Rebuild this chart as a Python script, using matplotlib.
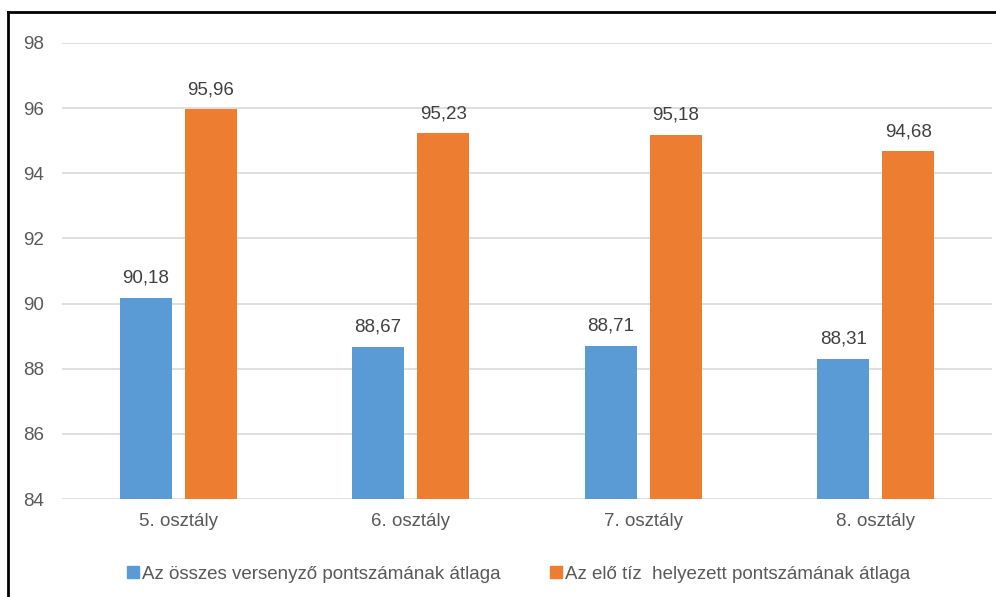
import matplotlib
matplotlib.use("Agg")
import matplotlib.pyplot as plt
import numpy as np
from matplotlib.lines import Line2D

plt.rcParams['font.family'] = ['Liberation Sans', 'DejaVu Sans']

categories = ["5. osztály", "6. osztály", "7. osztály", "8. osztály"]
series_names = ["Az összes versenyző pontszámának átlaga",
                "Az elő tíz  helyezett pontszámának átlaga"]
all_avg = [90.18, 88.67, 88.71, 88.31]
top10_avg = [95.96, 95.23, 95.18, 94.68]
yticks = [84, 86, 88, 90, 92, 94, 96, 98]

blue = "#5b9bd5"
orange = "#ed7d31"
fs = 13.5

fig = plt.figure(figsize=(9.96, 5.97), dpi=100)
ax = fig.add_axes([0.0622, 0.164, 0.9338, 0.764])

x = np.arange(len(categories))
w = 0.224
off = 0.14
ax.bar(x - off, [v - 84 for v in all_avg], w, bottom=84, color=blue, zorder=3)
ax.bar(x + off, [v - 84 for v in top10_avg], w, bottom=84, color=orange, zorder=3)

def fmt(v):
    return f"{v:.2f}".replace(".", ",")

for xi, v in zip(x - off, all_avg):
    ax.annotate(fmt(v), (xi, v), xytext=(0, 8), textcoords="offset points",
                ha="center", va="bottom", fontsize=fs, color="#404040")
for xi, v in zip(x + off, top10_avg):
    ax.annotate(fmt(v), (xi, v), xytext=(0, 8), textcoords="offset points",
                ha="center", va="bottom", fontsize=fs, color="#404040")

ax.set_xlim(-0.5, len(categories) - 0.5)
ax.set_ylim(84, 98)
ax.set_yticks(yticks)
ax.set_yticklabels([str(t) for t in yticks])
ax.set_xticks(x)
ax.set_xticklabels(categories)
ax.tick_params(axis="both", length=0, labelsize=fs, colors="#595959")
ax.tick_params(axis="y", pad=13)
ax.tick_params(axis="x", pad=10)
ax.yaxis.grid(True, color="#d9d9d9", linewidth=1.2, zorder=0)
for s in ax.spines.values():
    s.set_visible(False)

handles = [Line2D([], [], marker="s", linestyle="none", color=blue, markersize=8),
           Line2D([], [], marker="s", linestyle="none", color=orange, markersize=8)]
fig.legend(handles, series_names, loc="center", bbox_to_anchor=(0.52, 0.038),
           ncol=2, frameon=False, fontsize=fs, labelcolor="#595959",
           handletextpad=0.05, columnspacing=2.6, handlelength=0.8)

# outer frame (left and top edges)
fig.add_artist(Line2D([0.008, 0.008], [0, 0.98], transform=fig.transFigure,
                      color="black", linewidth=2))
fig.add_artist(Line2D([0.008, 1.0], [0.98, 0.98], transform=fig.transFigure,
                      color="black", linewidth=2))

fig.savefig("out.png", dpi=100)
